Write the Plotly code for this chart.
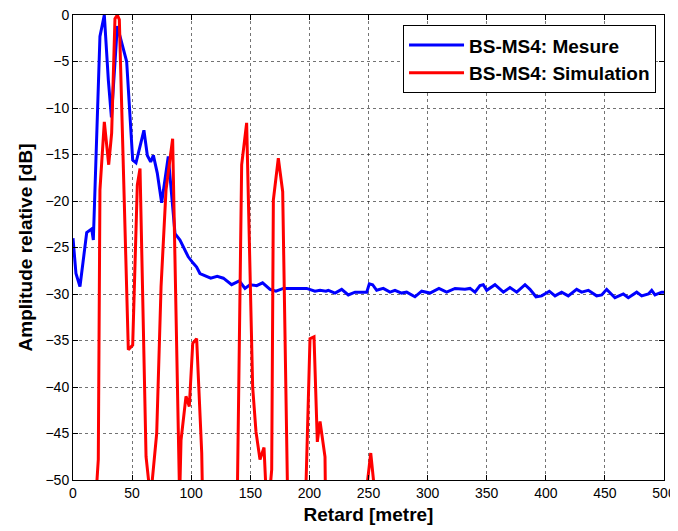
import plotly.graph_objects as go

# Measured data (BS-MS4: Mesure)
mesure_x = [0, 2.5, 5.9, 11.6, 15.8, 17.2, 22.8, 26.5, 29.9, 32.5, 37.5, 45.4, 50.5, 53.3,
            60, 62.9, 65.7, 68, 71.3, 75, 80.6, 86.3, 90.5, 97.5, 101.8, 104.6, 107.4,
            116.5, 122, 127.2, 134.2, 140.7, 145.5, 149.7, 155.4, 160.4, 166.7, 171.7,
            177.9, 197.7, 204.7, 209, 214, 216, 221.7, 227.3, 232.9, 238.6, 248.5, 250.7,
            253.5, 256.9, 262.5, 268.2, 272.4, 278, 282.3, 289.3, 295, 302, 309.6, 316.1,
            323.2, 331.6, 335.9, 340.1, 344.3, 347.1, 350, 357, 364.1, 369.7, 375.4, 382.4,
            386.6, 391.7, 396.5, 403, 407.8, 413.4, 419, 426.1, 430.3, 436, 443, 447.3,
            451.5, 458.5, 465.6, 469.8, 476.9, 481.1, 486.8, 489.6, 492.4, 498, 500]
mesure_y = [-24, -27.8, -29.2, -23.4, -23.0, -24.2, -2.3, 0, -7, -11, -1.2, -5.0, -15.6, -15.9,
            -12.4, -15.1, -15.8, -15.1, -17.0, -20.2, -15.2, -23.5, -24.2, -26.0, -26.7, -27.1, -27.8,
            -28.3, -28.1, -28.3, -29.0, -28.6, -29.4, -29.0, -29.1, -28.8, -29.5, -29.7,
            -29.4, -29.4, -29.7, -29.6, -29.7, -29.6, -29.9, -29.5, -30.1, -29.8, -29.8, -28.9,
            -29.0, -29.6, -29.4, -29.8, -29.6, -29.9, -29.8, -30.3, -29.7, -29.9, -29.4, -29.8,
            -29.4, -29.5, -29.4, -29.8, -29.1, -29.0, -29.6, -29.0, -29.8, -29.3, -29.8, -29.0,
            -29.5, -30.3, -30.2, -29.7, -30.2, -29.8, -30.2, -29.5, -29.8, -29.6, -30.2, -30.1,
            -29.5, -30.4, -30.0, -30.4, -29.8, -30.2, -30.0, -29.6, -30.1, -29.8, -29.8]

# Simulated data (BS-MS4: Simulation); None = below the displayed range
simulation_x = [19.3, 21.4, 22.8, 26.5, 30.2, 32.7, 35.5, 37.5, 39.2, 46.8, 50.5, 54.4, 56.7,
                61.8, 65.6, 70.8, 74.5, 78.7, 84.3, 86.3, 90.2, 91.4, 95.6, 98.4, 101.3,
                104.6, 108.9, 109.6, None,
                139.0, 142.7, 146.9, 152.0, 154.8, 158.2, 161.6, 163.6, 166.0, 168.1,
                169.5, 173.7, 177.4, 178.0, 181.6, None,
                196.8, 200.5, 203.9, 206.7, 209.0, 213.2, 213.6, None,
                247.5, 251.9, 255.8]
simulation_y = [-52, -47.8, -18.8, -11.5, -16.1, -12.7, -0.4, 0, -0.5, -36.0, -35.5, -18.3, -16.5,
                -47.5, -52, -45.0, -29.2, -18.8, -13.3, -26.3, -52, -45.7, -41.0, -42.1, -35.3,
                -34.8, -47.1, -52, None,
                -52, -16.1, -11.6, -40.0, -44.8, -47.8, -46.5, -52, -52, -48.9,
                -19.9, -15.4, -19.0, -24.0, -52, None,
                -52, -34.8, -34.6, -45.9, -43.7, -47.5, -52, None,
                -52, -47.1, -52]

x_ticks = [0, 50, 100, 150, 200, 250, 300, 350, 400, 450, 500]
y_ticks = [0, -5, -10, -15, -20, -25, -30, -35, -40, -45, -50]

FONT = "Arial, 'Liberation Sans', sans-serif"

fig = go.Figure()
fig.add_trace(go.Scatter(x=mesure_x, y=mesure_y, mode="lines", name="<b>BS-MS4: Mesure</b>",
                         line=dict(color="#0000ff", width=3)))
fig.add_trace(go.Scatter(x=simulation_x, y=simulation_y, mode="lines",
                         name="<b>BS-MS4: Simulation</b>",
                         line=dict(color="#ff0000", width=3), connectgaps=False))

axis_common = dict(showline=True, linecolor="black", linewidth=1, mirror="allticks",
                   ticks="inside", ticklen=5, tickcolor="black",
                   showgrid=True, gridcolor="rgba(0,0,0,0.55)", griddash="dot", gridwidth=1,
                   zeroline=False, automargin=False, ticklabeloverflow="allow")

# The page adds an 8px body margin, so the figure is made 8px smaller
fig.update_layout(
    width=670, height=523,
    margin=dict(l=65, r=14, t=7, b=51),
    paper_bgcolor="white", plot_bgcolor="white",
    font=dict(family=FONT, color="black"),
    xaxis=dict(range=[0, 500], tickvals=x_ticks, tickfont=dict(size=14),
               title=dict(text="<b>Retard [metre]</b>", font=dict(size=19), standoff=7),
               **axis_common),
    yaxis=dict(range=[-50, 0], tickvals=y_ticks, tickfont=dict(size=14),
               title=dict(text="<b>Amplitude relative [dB]</b>", font=dict(size=19), standoff=7),
               **axis_common),
    legend=dict(x=0.9865, y=0.978, xanchor="right", yanchor="top",
                bgcolor="white", bordercolor="black", borderwidth=1,
                font=dict(size=19, family=FONT), tracegroupgap=0, itemwidth=55),
    showlegend=True,
)

fig.write_html("out.html")
